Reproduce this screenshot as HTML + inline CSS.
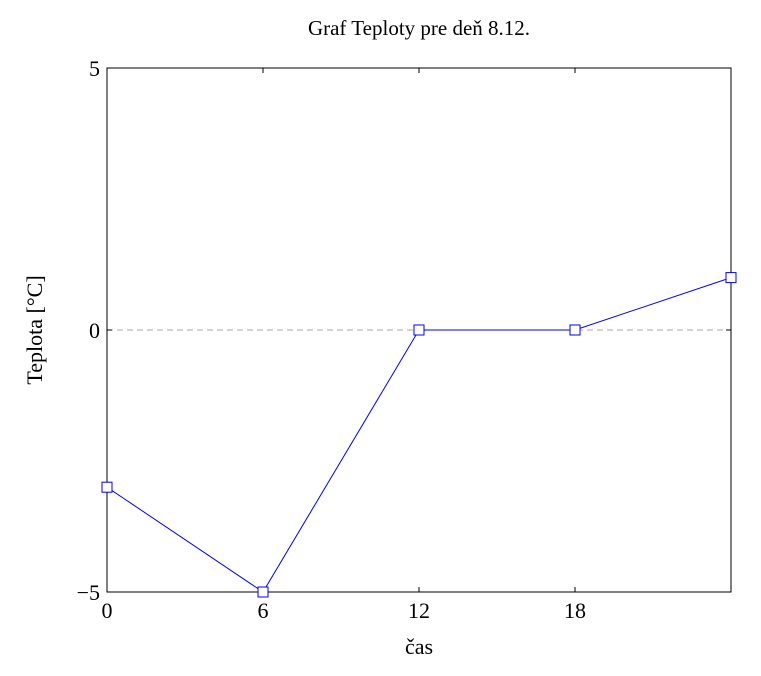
<!DOCTYPE html>
<html><head><meta charset="utf-8"><style>
body{margin:0;background:#fff}
svg text{font-family:"Liberation Serif",serif;fill:#000}
</style></head><body>
<svg id="chart" width="761" height="671" xmlns="http://www.w3.org/2000/svg">
<text x="419" y="35" font-size="21" text-anchor="middle">Graf Teploty pre deň 8.12.</text>
<g id="axes"></g>
<g id="marks"></g>
<text x="419" y="654" font-size="22" text-anchor="middle">čas</text>
<text transform="translate(42,330) rotate(-90)" font-size="22" text-anchor="middle">Teplota [°C]</text>
</svg>
<script>
const hours=[0,6,12,18,24];
const temps=[-3,-5,0,0,1];
const xTicks=[0,6,12,18];
const yTicks=[-5,0,5];
const NS="http://www.w3.org/2000/svg";
const L=107,R=731,T=68,B=592;
const xs=v=>L+(v-0)/(24-0)*(R-L);
const ys=v=>B-(v+5)/10*(B-T);
function mk(tag,attrs,parent){const e=document.createElementNS(NS,tag);for(const k in attrs)e.setAttribute(k,attrs[k]);parent.appendChild(e);return e;}
const ax=document.getElementById('axes'),mg=document.getElementById('marks');
let z=mk('line',{x1:L,x2:R,y1:ys(0),y2:ys(0),stroke:'#aaa','stroke-dasharray':'6,4','stroke-width':1},ax);


let fr=mk('rect',{x:L,y:T,width:R-L,height:B-T,fill:'none',stroke:'#000','stroke-width':1},ax);


xTicks.forEach(v=>{const x=xs(v);
 mk('line',{x1:x,x2:x,y1:B,y2:B-5,stroke:'#000'},ax);
 mk('line',{x1:x,x2:x,y1:T,y2:T+5,stroke:'#000'},ax);
 const t=mk('text',{x:x,y:B+26,'font-size':22,'text-anchor':'middle'},ax);t.textContent=v;
 
 
});
yTicks.forEach(v=>{const y=ys(v);
 mk('line',{x1:L,x2:L+5,y1:y,y2:y,stroke:'#000'},ax);
 mk('line',{x1:R,x2:R-5,y1:y,y2:y,stroke:'#000'},ax);
 const t=mk('text',{x:L-7,y:y+8,'font-size':22,'text-anchor':'end'},ax);t.textContent=v<0?'−'+(-v):v;
 
 
});
const pts=hours.map((h,i)=>xs(h)+','+ys(temps[i])).join(' ');
const pl=mk('polyline',{points:pts,fill:'none',stroke:'#00f','stroke-width':1},mg);


hours.forEach((h,i)=>{
 const r=mk('rect',{x:xs(h)-5,y:ys(temps[i])-5,width:10,height:10,fill:'#fff',stroke:'#00f','stroke-width':1},mg);
 
 
});
</script>
</body></html>
